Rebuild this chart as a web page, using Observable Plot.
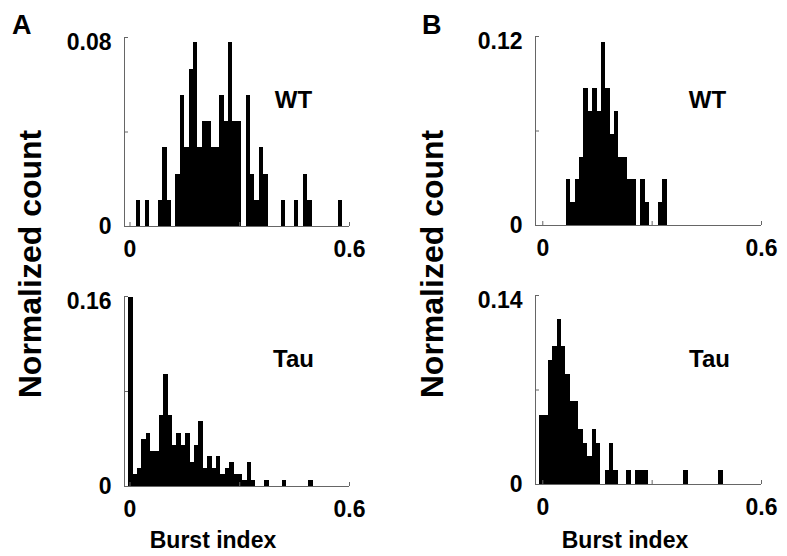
<!DOCTYPE html>
<html>
<head>
<meta charset="utf-8">
<script src="https://cdn.jsdelivr.net/npm/d3@7"></script>
<script src="https://cdn.jsdelivr.net/npm/@observablehq/plot@0.6"></script>
<style>
  html, body { margin: 0; padding: 0; background: #fff; }
  #fig { position: relative; width: 787px; height: 556px; overflow: hidden; background: #fff; }
  #fig svg { position: absolute; }
</style>
</head>
<body>
<div id="fig"></div>
<script>
// ---------------- data ----------------
const binWidth = 0.012;               // histogram bin width (burst index units)

// Panel A, WT
const aWtStart = 0.0175;
const aWtTotal = 90;
const aWtCounts = [1,0,1,0,0, 1,3,1,0,2, 5,3,6,7,3, 4,4,3,3,5, 4,7,4,4,0, 5,2,1,3,2, 0,0,0,1,0, 0,1,0,2,1, 0,0,0,0,0, 0,1];

// Panel A, Tau
const aTauStart = -0.0036;
const aTauTotal = 201;
const aTauCounts = [32,2,3,8,9,6,6,12,19,12, 7,9,7,9,4,7,11,3,5,3, 5,2,3,4,2,2,1,4,1,0, 0,1,0,0,0,1,0,0,0,0, 0,1];

// Panel B, WT
const bWtStart = 0.065;
const bWtTotal = 69;
const bWtCounts = [2,1,2,3,6,5,6,5,8,6,4,5,3,3,2,2,0,2,1,0,0,1,2];

// Panel B, Tau
const bTauStart = -0.009;
const bTauTotal = 98;
const bTauCounts = [5,5,9,10,12,10,8,6,6,4, 3,2,4,3,0,1,3,1,0,0, 1,0,1,1,1,0,0,0,0,0, 0,0,0,1,0,0,0,0,0,0, 0,1];

// axis ticks / labels
const xTickValues = [0, 0.3, 0.6];
const xTickLabels = [0, 0.6];
const aWtYTicks = [0, 0.04, 0.08];
const aTauYTicks = [0, 0.08, 0.16];
const bWtYTicks = [0, 0.06, 0.12];
const bTauYTicks = [0, 0.07, 0.14];
const groupNames = ["WT", "Tau"];
const panelLetters = ["A", "B"];
const xAxisTitle = "Burst index";
const yAxisTitle = "Normalized count";

// ---------------- drawing ----------------
const FONT = "'Liberation Sans', Arial, Helvetica, sans-serif";
const AXIS = "#666";
const fig = document.getElementById("fig");

function bins(start, counts, total) {
  return counts
    .map((c, i) => ({x1: start + i * binWidth, x2: start + (i + 1) * binWidth, y: c / total}))
    .filter(d => d.y > 0);
}

function panel({data, yTicks, name, xMin, left, top, fw, fh, nameDx, nameDy}) {
  const ML = 70, MR = 25, MT = 12, MB = 40;
  const yMax = yTicks[yTicks.length - 1];
  const fmt = d => String(d);
  const plot = Plot.plot({
    width: ML + fw + MR,
    height: MT + fh + MB,
    marginLeft: ML, marginRight: MR, marginTop: MT, marginBottom: MB,
    x: {domain: [xMin, 0.6], label: null},
    y: {domain: [0, yMax], label: null},
    style: {fontFamily: FONT, background: "transparent", overflow: "visible", color: "#000"},
    marks: [
      Plot.rect(data, {x1: "x1", x2: "x2", y1: () => 0, y2: "y", fill: "#000", inset: 0, shapeRendering: "crispEdges"}),
      Plot.ruleX([xMin], {stroke: AXIS, strokeWidth: 1}),
      Plot.ruleY([0], {stroke: AXIS, strokeWidth: 1}),
      Plot.tickY(yTicks, {y: d => d, stroke: AXIS, insetRight: fw - 4}),
      Plot.tickX(xTickValues, {x: d => d, stroke: AXIS, insetTop: fh - 4}),
      Plot.axisY([0], {tickSize: 0, tickPadding: 13, fontSize: 23, fontWeight: "bold", label: null, tickFormat: fmt}),
      Plot.axisY([yMax], {tickSize: 0, tickPadding: 13, fontSize: 23, fontWeight: "bold", label: null, tickFormat: fmt, dy: 5}),
      Plot.axisX(xTickLabels, {tickSize: 0, tickPadding: 14, fontSize: 23, fontWeight: "bold", label: null, tickFormat: fmt}),
      Plot.text([name], {frameAnchor: "top-left", dx: nameDx, dy: nameDy, textAnchor: "middle", lineAnchor: "bottom",
                         fontSize: 24, fontWeight: "bold", fill: "#000"})
    ]
  });
  plot.style.left = (left - ML) + "px";
  plot.style.top = (top - MT) + "px";
  fig.appendChild(plot);
}

panel({data: bins(aWtStart, aWtCounts, aWtTotal), yTicks: aWtYTicks, name: groupNames[0], xMin: -0.015,
       left: 124, top: 37, fw: 225, fh: 189, nameDx: 169, nameDy: 70});
panel({data: bins(aTauStart, aTauCounts, aTauTotal), yTicks: aTauYTicks, name: groupNames[1], xMin: -0.015,
       left: 124, top: 296, fw: 225, fh: 190, nameDx: 169, nameDy: 70});
panel({data: bins(bWtStart, bWtCounts, bWtTotal), yTicks: bWtYTicks, name: groupNames[0], xMin: -0.02,
       left: 535, top: 36, fw: 226, fh: 189, nameDx: 172, nameDy: 71});
panel({data: bins(bTauStart, bTauCounts, bTauTotal), yTicks: bTauYTicks, name: groupNames[1], xMin: -0.02,
       left: 535, top: 295, fw: 226, fh: 189, nameDx: 174, nameDy: 71});

// overlay: panel letters and shared axis titles
const ov = d3.select(fig).append("svg")
  .attr("width", 787).attr("height", 556)
  .style("left", "0px").style("top", "0px")
  .style("font-family", FONT).style("font-weight", "bold").style("pointer-events", "none");

ov.append("text").attr("x", 12).attr("y", 34).attr("font-size", 27).text(panelLetters[0]);
ov.append("text").attr("x", 422).attr("y", 34).attr("font-size", 27).text(panelLetters[1]);

[41, 443].forEach(x => {
  ov.append("text").attr("transform", `translate(${x},264) rotate(-90)`)
    .attr("text-anchor", "middle").attr("font-size", 32).text(yAxisTitle);
});
[213, 625].forEach(x => {
  ov.append("text").attr("x", x).attr("y", 548)
    .attr("text-anchor", "middle").attr("font-size", 23).text(xAxisTitle);
});
</script>
</body>
</html>
